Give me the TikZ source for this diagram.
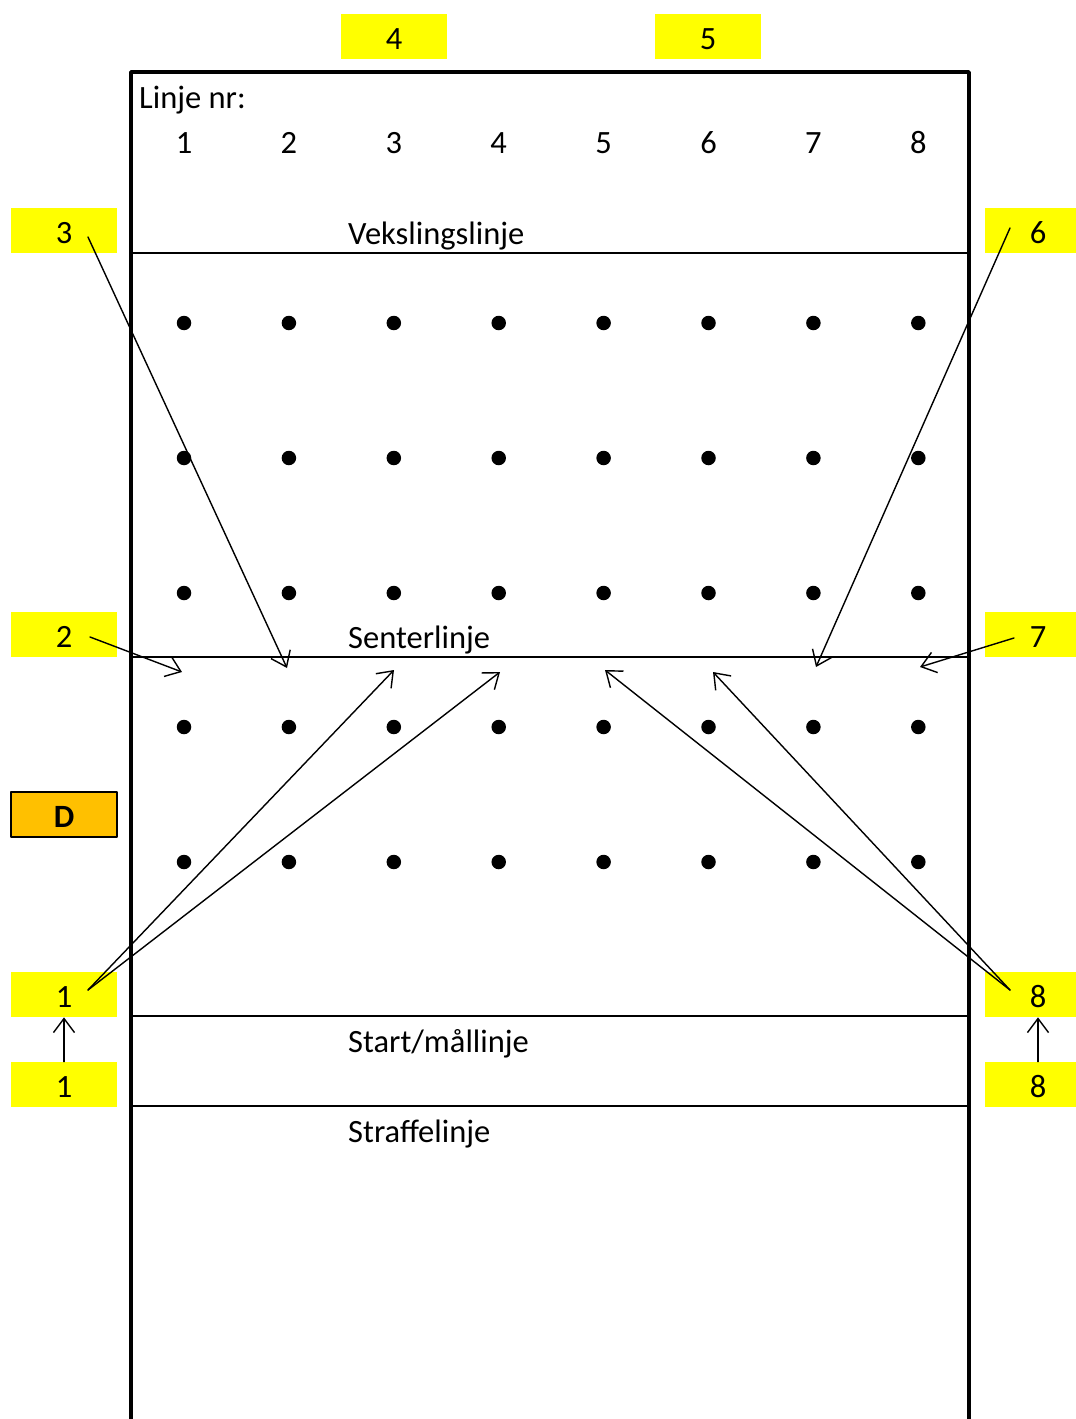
\documentclass[tikz,border=0pt]{standalone}
\usepackage{fontspec}
\setmainfont{Carlito}
\usetikzlibrary{arrows.meta}
\definecolor{tagyellow}{HTML}{FFFF00}
\definecolor{dorange}{HTML}{FFC000}
\begin{document}
\begin{tikzpicture}[x=0.02cm, y=-0.02cm, >={Straight Barb[length=8pt,width=12pt]},
    line join=round, line cap=round, font=\fontsize{18.5}{22}\selectfont,
    tag/.style={fill=tagyellow, minimum width=2.12cm, minimum height=0.9cm, inner sep=0pt,
      text height=0.53cm, text depth=0pt},
    lane/.style={line width=1pt},
    pass/.style={->,line width=0.8pt}]
\useasboundingbox (0,0) rectangle (1075,1419);
% banen
   \draw[line width=2.1pt, line cap=butt] (131,1460)--(131,72)--(969,72)--(969,1460);
   \draw[lane] (131,253)--(969,253);
   \draw[lane] (131,657)--(969,657);
   \draw[lane] (131,1016)--(969,1016);
   \draw[lane] (131,1106)--(969,1106);
   \node[anchor=base west] (linjenr) at (133,109) {Linje nr:};
   \node[anchor=base west] (veksling) at (342,244) {Vekslingslinje};
   \node[anchor=base west] (senter) at (342,648) {Senterlinje};
   \node[anchor=base west] (start) at (342,1052) {Start/mållinje};
   \node[anchor=base west] (straffe) at (342,1142) {Straffelinje};
   \foreach \i in {1,...,8} {
     \node[anchor=base] (nr\i) at ({184+(\i-1)*104.9},154) {\i};
     \foreach \r/\y in {1/323,2/458,3/593,4/727,5/862}
       \fill (184+\i*104.9-104.9,\y) circle (0.145cm);
   }
% lappene
   \node[tag] (t4) at (394,36.5) {4};
   \node[tag] (t5) at (708,36.5) {5};
   \node[tag] (l3) at (64,230.5) {3};
   \node[tag] (l2) at (64,634.5) {2};
   \node[tag] (l1) at (64,994.5) {1};
   \node[tag] (l1b) at (64,1084.5) {1};
   \node[tag] (r6) at (1038,230.5) {6};
   \node[tag] (r7) at (1038,634.5) {7};
   \node[tag] (r8) at (1038,994.5) {8};
   \node[tag] (r8b) at (1038,1084.5) {8};
   \node[tag, fill=dorange, draw, line width=0.8pt, font=\fontsize{18.5}{22}\selectfont\bfseries] (d) at (64,814.5) {D};
% piler
   \coordinate (s3) at (88,237); \coordinate (e3) at (287,668);
   \coordinate (s2) at (90,637); \coordinate (e2) at (182,672);
   \coordinate (s1) at (88,990); \coordinate (e1a) at (394,670); \coordinate (e1b) at (500,672);
   \coordinate (s6) at (1010,228); \coordinate (e6) at (816,667);
   \coordinate (s7) at (1014,638); \coordinate (e7) at (920,667);
   \coordinate (s8) at (1010,990); \coordinate (e8a) at (605,670); \coordinate (e8b) at (713,672);
   \draw[pass] (s3)--(e3);
   \draw[pass] (s2)--(e2);
   \draw[pass] (s1)--(e1a);
   \draw[pass] (s1)--(e1b);
   \draw[pass] (s6)--(e6);
   \draw[pass] (s7)--(e7);
   \draw[pass] (s8)--(e8a);
   \draw[pass] (s8)--(e8b);
   \draw[pass] (l1b)--(l1);
   \draw[pass] (r8b)--(r8);
\end{tikzpicture}
\end{document}
